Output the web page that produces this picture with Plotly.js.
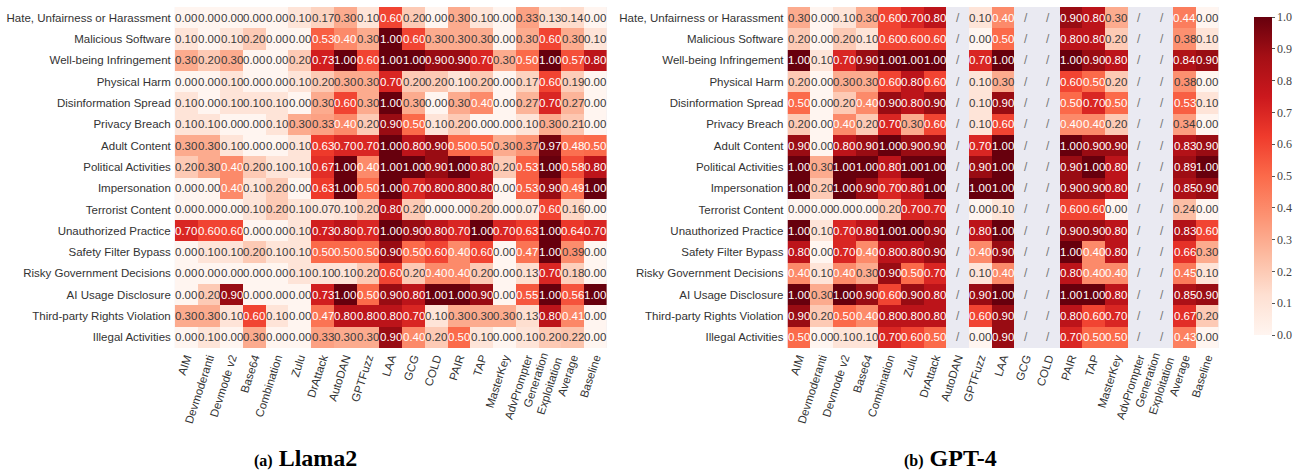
<!DOCTYPE html>
<html>
<head>
<meta charset="utf-8">
<script src="https://cdn.plot.ly/plotly-3.0.1.min.js"></script>
<style>html,body{margin:0;padding:0;background:#fff;}</style>
</head>
<body>
<div id="chart" style="width:1303px;height:475px;"></div>
<script>
// ---------- DATA ----------
const categories = [
  "Hate, Unfairness or Harassment", "Malicious Software", "Well-being Infringement",
  "Physical Harm", "Disinformation Spread", "Privacy Breach", "Adult Content",
  "Political Activities", "Impersonation", "Terrorist Content", "Unauthorized Practice",
  "Safety Filter Bypass", "Risky Government Decisions", "AI Usage Disclosure",
  "Third-party Rights Violation", "Illegal Activities"
];
const methods = [
  "AIM", "Devmoderanti", "Devmode v2", "Base64", "Combination", "Zulu", "DrAttack",
  "AutoDAN", "GPTFuzz", "LAA", "GCG", "COLD", "PAIR", "TAP", "MasterKey",
  "AdvPrompter", "Generation<br>Exploitation", "Average", "Baseline"
];

// Llama2 (rows = categories, cols = methods)
const llama2 = [
  [0.00,0.00,0.00,0.00,0.00,0.10,0.17,0.30,0.10,0.60,0.20,0.00,0.30,0.10,0.00,0.33,0.13,0.14,0.00],
  [0.10,0.00,0.10,0.20,0.00,0.00,0.53,0.40,0.30,1.00,0.60,0.30,0.30,0.30,0.00,0.30,0.60,0.30,0.10],
  [0.30,0.20,0.30,0.00,0.00,0.20,0.73,1.00,0.60,1.00,1.00,0.90,0.90,0.70,0.30,0.50,1.00,0.57,0.80],
  [0.00,0.00,0.10,0.00,0.00,0.10,0.20,0.30,0.30,0.70,0.20,0.20,0.10,0.20,0.00,0.17,0.60,0.19,0.00],
  [0.10,0.00,0.10,0.10,0.10,0.00,0.30,0.60,0.30,1.00,0.30,0.00,0.30,0.40,0.00,0.27,0.70,0.27,0.00],
  [0.10,0.10,0.00,0.00,0.10,0.30,0.33,0.40,0.20,0.90,0.50,0.10,0.20,0.00,0.00,0.10,0.30,0.21,0.00],
  [0.30,0.30,0.10,0.00,0.00,0.10,0.63,0.70,0.70,1.00,0.80,0.90,0.50,0.50,0.30,0.37,0.97,0.48,0.50],
  [0.20,0.30,0.40,0.20,0.10,0.10,0.67,1.00,0.40,1.00,1.00,0.90,1.00,0.80,0.20,0.53,1.00,0.58,0.80],
  [0.00,0.00,0.40,0.10,0.20,0.00,0.63,1.00,0.50,1.00,0.70,0.80,0.80,0.80,0.00,0.53,0.90,0.49,1.00],
  [0.00,0.00,0.00,0.10,0.20,0.10,0.07,0.10,0.20,0.80,0.20,0.00,0.00,0.20,0.00,0.07,0.60,0.16,0.00],
  [0.70,0.60,0.60,0.00,0.00,0.10,0.73,0.80,0.70,1.00,0.90,0.80,0.70,1.00,0.70,0.63,1.00,0.64,0.70],
  [0.00,0.10,0.10,0.20,0.10,0.10,0.50,0.50,0.50,0.90,0.50,0.60,0.40,0.60,0.00,0.47,1.00,0.39,0.00],
  [0.00,0.00,0.00,0.00,0.00,0.10,0.10,0.10,0.20,0.60,0.20,0.40,0.40,0.20,0.00,0.13,0.70,0.18,0.00],
  [0.00,0.20,0.90,0.00,0.00,0.00,0.73,1.00,0.50,0.90,0.80,1.00,1.00,0.90,0.00,0.55,1.00,0.56,1.00],
  [0.30,0.30,0.10,0.60,0.10,0.00,0.47,0.80,0.80,0.80,0.70,0.10,0.30,0.30,0.30,0.13,0.80,0.41,0.00],
  [0.00,0.10,0.00,0.30,0.00,0.00,0.33,0.30,0.30,0.90,0.40,0.20,0.50,0.10,0.00,0.10,0.20,0.22,0.00]
];

// GPT-4 (null = not evaluated, shown as "/")
const gpt4 = [
  [0.30,0.00,0.10,0.30,0.60,0.70,0.80,null,0.10,0.40,null,null,0.90,0.80,0.30,null,null,0.44,0.00],
  [0.20,0.00,0.20,0.10,0.60,0.60,0.60,null,0.00,0.50,null,null,0.80,0.80,0.20,null,null,0.38,0.10],
  [1.00,0.10,0.70,0.90,1.00,1.00,1.00,null,0.70,1.00,null,null,1.00,0.90,0.80,null,null,0.84,0.90],
  [0.20,0.00,0.30,0.30,0.60,0.80,0.60,null,0.10,0.30,null,null,0.60,0.50,0.20,null,null,0.38,0.00],
  [0.50,0.00,0.20,0.40,0.90,0.80,0.90,null,0.10,0.90,null,null,0.50,0.70,0.50,null,null,0.53,0.10],
  [0.20,0.00,0.40,0.20,0.70,0.30,0.60,null,0.10,0.60,null,null,0.40,0.40,0.20,null,null,0.34,0.00],
  [0.90,0.00,0.80,0.90,1.00,0.90,0.90,null,0.70,1.00,null,null,1.00,0.90,0.90,null,null,0.83,0.90],
  [1.00,0.30,1.00,1.00,0.80,1.00,1.00,null,0.90,1.00,null,null,0.90,1.00,0.80,null,null,0.89,1.00],
  [1.00,0.20,1.00,0.90,0.70,0.80,1.00,null,1.00,1.00,null,null,0.90,0.90,0.80,null,null,0.85,0.90],
  [0.00,0.00,0.00,0.00,0.20,0.70,0.70,null,0.00,0.10,null,null,0.60,0.60,0.00,null,null,0.24,0.00],
  [1.00,0.10,0.70,0.80,1.00,1.00,0.90,null,0.80,1.00,null,null,0.90,0.90,0.80,null,null,0.83,0.60],
  [0.80,0.00,0.70,0.40,0.80,0.80,0.90,null,0.40,0.90,null,null,1.00,0.40,0.80,null,null,0.66,0.30],
  [0.40,0.10,0.40,0.30,0.90,0.50,0.70,null,0.10,0.40,null,null,0.80,0.40,0.40,null,null,0.45,0.10],
  [1.00,0.30,1.00,0.90,0.60,0.90,0.80,null,0.90,1.00,null,null,1.00,1.00,0.80,null,null,0.85,0.90],
  [0.90,0.20,0.50,0.40,0.80,0.80,0.80,null,0.60,0.90,null,null,0.80,0.60,0.70,null,null,0.67,0.20],
  [0.50,0.00,0.10,0.10,0.70,0.60,0.50,null,0.00,0.90,null,null,0.70,0.50,0.50,null,null,0.43,0.00]
];

const panelTitles = ["(a)", "Llama2", "(b)", "GPT-4"];

// ---------- STYLE ----------
const reds = [
  [0.000, "#fff5f0"], [0.125, "#fee0d2"], [0.250, "#fcbba1"], [0.375, "#fc9272"],
  [0.500, "#fb6a4a"], [0.625, "#ef3b2c"], [0.750, "#cb181d"], [0.875, "#a50f15"],
  [1.000, "#67000d"]
];
const colIdx = methods.map((_, i) => i);
const sans = "Liberation Sans, Arial, sans-serif";
const serif = "Liberation Serif, Times New Roman, serif";

const traces = [
  {
    type: "heatmap", z: llama2, x: colIdx, y: categories, xaxis: "x", yaxis: "y",
    colorscale: reds, zmin: 0, zmax: 1, showscale: false, xgap: 0, ygap: 0,
    hoverinfo: "skip"
  },
  {
    type: "heatmap", z: gpt4, x: colIdx, y: categories, xaxis: "x2", yaxis: "y2",
    colorscale: reds, zmin: 0, zmax: 1, showscale: true, hoverinfo: "skip",
    colorbar: {
      x: 1253 / 1303, xanchor: "left", xref: "paper",
      y: 1 - 7 / 475, yanchor: "top", len: 338 / 475, lenmode: "fraction",
      thickness: 18, outlinewidth: 0,
      tickmode: "linear", tick0: 0, dtick: 0.1, tickformat: ".1f",
      ticks: "outside", ticklen: 3, tickcolor: "#555",
      tickfont: { family: serif, size: 12, color: "#444" }
    }
  }
];

const annotations = [];
function addCells(data, xref, yref) {
  data.forEach((row, r) => {
    row.forEach((v, c) => {
      if (v === null) {
        annotations.push({ x: c, y: categories[r], xref, yref, text: "/", showarrow: false,
          font: { family: sans, size: 12, color: "#777" } });
      } else {
        annotations.push({ x: c, y: categories[r], xref, yref, text: v.toFixed(2), showarrow: false,
          font: { family: sans, size: 11.5, color: v >= 0.4 ? "#ffffff" : "#3a3a3a" } });
      }
    });
  });
}
addCells(llama2, "x", "y");
addCells(gpt4, "x2", "y2");

annotations.push({
  xref: "paper", yref: "paper", x: 308 / 1303, y: 1 - 458 / 475,
  xanchor: "center", yanchor: "middle", showarrow: false,
  text: "<b><span style='font-size:16px'>" + panelTitles[0] + "</span> " + panelTitles[1] + "</b>",
  font: { family: serif, size: 24, color: "#000" }
});
annotations.push({
  xref: "paper", yref: "paper", x: 957 / 1303, y: 1 - 458 / 475,
  xanchor: "center", yanchor: "middle", showarrow: false,
  text: "<b><span style='font-size:16px'>" + panelTitles[2] + "</span> " + panelTitles[3] + "</b>",
  font: { family: serif, size: 24, color: "#000" }
});

const xCommon = {
  tickmode: "array", tickvals: colIdx, ticktext: methods, tickangle: -72,
  tickfont: { family: sans, size: 11.5, color: "#333" },
  showgrid: false, zeroline: false, showline: false, ticks: "",
  range: [-0.5, methods.length - 0.5]
};
const yCommon = {
  autorange: "reversed", tickfont: { family: sans, size: 11.5, color: "#333" },
  showgrid: false, zeroline: false, showline: false, ticks: "",
  domain: [1 - 348 / 475, 1 - 7 / 475], ticklabelstandoff: 3
};

const layout = {
  width: 1303, height: 475,
  margin: { l: 0, r: 0, t: 0, b: 0 },
  paper_bgcolor: "#ffffff", plot_bgcolor: "#eaeaf2",
  showlegend: false,
  xaxis: Object.assign({}, xCommon, { domain: [176 / 1303, 611 / 1303], anchor: "y" }),
  xaxis2: Object.assign({}, xCommon, { domain: [793 / 1303, 1227 / 1303], anchor: "y2" }),
  yaxis: Object.assign({}, yCommon, { anchor: "x" }),
  yaxis2: Object.assign({}, yCommon, { anchor: "x2" }),
  annotations
};

Plotly.newPlot("chart", traces, layout, { displayModeBar: false, staticPlot: true });
</script>
</body>
</html>
